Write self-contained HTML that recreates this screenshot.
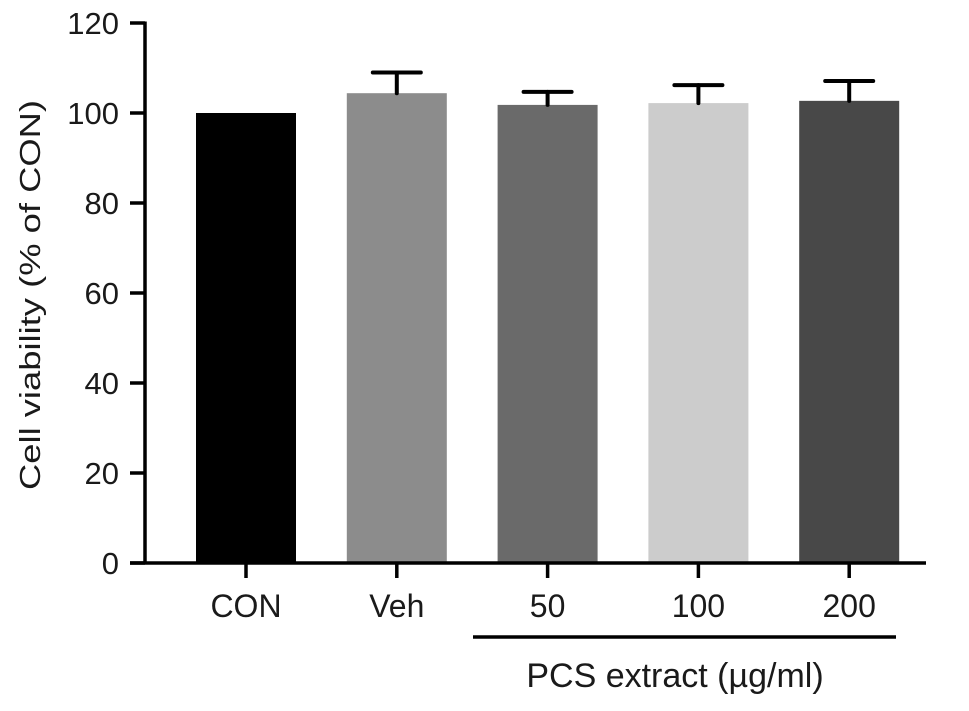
<!DOCTYPE html>
<html><head><meta charset="utf-8"><style>
body{margin:0;background:#fff}
svg text{font-family:"Liberation Sans",Arial,sans-serif;fill:#1a1a1a}
</style></head><body>
<svg width="969" height="706" viewBox="0 0 969 706" id="chart">
<g id="bars"></g>
<g id="axes"></g>
</svg>
<script>
const categories = ["CON","Veh","50","100","200"];
const values = [100, 104.4, 101.8, 102.2, 102.7];
const errors = [0, 4.6, 2.9, 4.0, 4.4];
const colors = ["#000000","#8c8c8c","#6a6a6a","#cccccc","#484848"];
const yTicks = [0,20,40,60,80,100,120];

const NS="http://www.w3.org/2000/svg";
const gb=document.getElementById('bars'), ga=document.getElementById('axes');
const y0=563, pxPer=4.5;
function yScale(v){return y0 - v*pxPer;}
function xCenter(i){return 246 + i*150.8;}
const barW=100;
function mk(tag,attrs,parent){const e=document.createElementNS(NS,tag);for(const k in attrs)e.setAttribute(k,attrs[k]);parent.appendChild(e);return e;}

categories.forEach((c,i)=>{
  const cx=xCenter(i), top=yScale(values[i]);
  const r=mk('rect',{x:cx-barW/2,y:top,width:barW,height:y0-top,fill:colors[i]},gb);
  
  
  if(errors[i]>0){
    const et=yScale(values[i]+errors[i]);
    const g=mk('g',{stroke:'#000','stroke-width':4,'stroke-linecap':'round'},gb);
    
    
    mk('line',{x1:cx,y1:top,x2:cx,y2:et},g);
    mk('line',{x1:cx-24,y1:et,x2:cx+24,y2:et},g);
  }
  const t=mk('line',{x1:cx,y1:y0,x2:cx,y2:578,stroke:'#000','stroke-width':3.5},ga);
  
  
  const lb=mk('text',{x:cx,y:617,'font-size':32,'text-anchor':'middle'},ga);
  lb.textContent=c;
  
  
});

const yax=mk('line',{x1:145,y1:yScale(120)-1.5,x2:145,y2:y0+1.5,stroke:'#000','stroke-width':3.5},ga);


const xax=mk('line',{x1:130,y1:y0,x2:926,y2:y0,stroke:'#000','stroke-width':3.5},ga);



yTicks.forEach(v=>{
  const yy=yScale(v);
  const t=mk('line',{x1:130,y1:yy,x2:145,y2:yy,stroke:'#000','stroke-width':3.5},ga);
  
  
  const l=mk('text',{x:119,y:yy+11,'font-size':31,'text-anchor':'end'},ga);
  l.textContent=v;
  
  
});

const yt=mk('text',{x:0,y:0,'font-size':29,'text-anchor':'middle',textLength:390,lengthAdjust:'spacingAndGlyphs',transform:'translate(40,295) rotate(-90)'},ga);
yt.textContent='Cell viability (% of CON)';



const gl=mk('line',{x1:473,y1:637,x2:896,y2:637,stroke:'#000','stroke-width':3.5},ga);


const gt=mk('text',{x:675,y:687,'font-size':34,'text-anchor':'middle'},ga);
gt.textContent='PCS extract (µg/ml)';


</script>
</body></html>
